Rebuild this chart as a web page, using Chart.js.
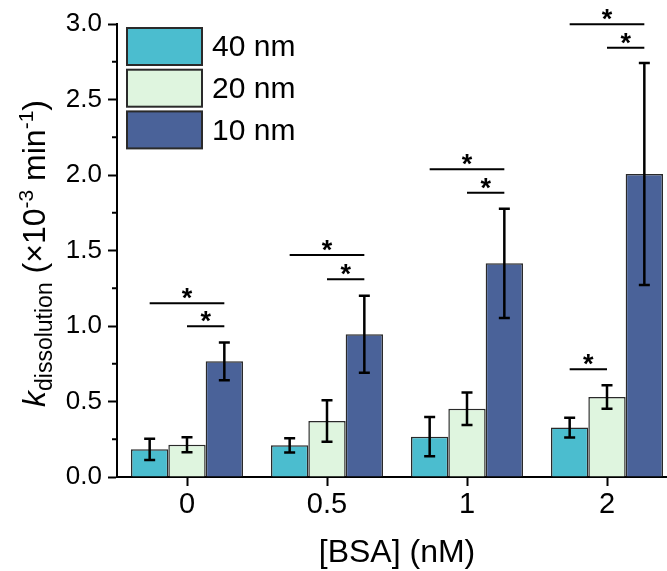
<!DOCTYPE html>
<html>
<head>
<meta charset="utf-8">
<script src="https://cdn.jsdelivr.net/npm/chart.js@4.4.1/dist/chart.umd.min.js"></script>
<style>
  html, body { margin: 0; padding: 0; background: #fff; overflow: hidden; }
</style>
</head>
<body>
<canvas id="chart" width="690" height="571"></canvas>
<script>
// [BSA] concentrations (nM)
const categories = ['0', '0.5', '1', '2'];
const seriesNames = ['40 nm', '20 nm', '10 nm'];
const seriesColors = ['#4bbdcf', '#dff5df', '#4a6299'];

// k_dissolution (x10^-3 min^-1) and error bars
const k40 = [0.183, 0.210, 0.267, 0.327];
const k20 = [0.214, 0.371, 0.452, 0.530];
const k10 = [0.766, 0.945, 1.415, 2.007];
const err40 = [0.070, 0.047, 0.130, 0.066];
const err20 = [0.050, 0.138, 0.107, 0.078];
const err10 = [0.125, 0.255, 0.362, 0.735];

// significance brackets: [category index, from series, to series, height]
const brackets = [
    [0, 0, 2, 1.150], [0, 1, 2, 0.998],
    [1, 0, 2, 1.470], [1, 1, 2, 1.309],
    [2, 0, 2, 2.038], [2, 1, 2, 1.883],
    [3, 0, 2, 2.998], [3, 1, 2, 2.843],
    [3, 0, 1, 0.713]
];

const yMinorTicks = [0.25, 0.75, 1.25, 1.75, 2.25, 2.75];

const values = [k40, k20, k10];
const errors = [err40, err20, err10];
const FONT = '"Liberation Sans", Arial, sans-serif';

const extras = {
    id: 'extras',
    afterDatasetsDraw(chart) {
        const ctx = chart.ctx;
        const y = chart.scales.y;
        ctx.save();
        ctx.strokeStyle = '#000';
        ctx.lineWidth = 2.5;
        // error bars
        errors.forEach((errArr, i) => {
            chart.getDatasetMeta(i).data.forEach((bar, j) => {
                const top = y.getPixelForValue(values[i][j] + errArr[j]);
                const bot = y.getPixelForValue(values[i][j] - errArr[j]);
                ctx.beginPath();
                ctx.moveTo(bar.x, top); ctx.lineTo(bar.x, bot);
                ctx.moveTo(bar.x - 5.5, top); ctx.lineTo(bar.x + 5.5, top);
                ctx.moveTo(bar.x - 5.5, bot); ctx.lineTo(bar.x + 5.5, bot);
                ctx.stroke();
            });
        });
        // brackets with stars
        ctx.lineWidth = 2;
        ctx.fillStyle = '#000';
        ctx.font = 'bold 27px ' + FONT;
        ctx.textAlign = 'center';
        ctx.textBaseline = 'alphabetic';
        brackets.forEach(([c, a, b, v]) => {
            const x1 = chart.getDatasetMeta(a).data[c].x;
            const x2 = chart.getDatasetMeta(b).data[c].x;
            const py = y.getPixelForValue(v);
            ctx.beginPath();
            ctx.moveTo(x1, py); ctx.lineTo(x2, py);
            ctx.stroke();
            ctx.fillText('*', (x1 + x2) / 2, py + 4);
        });
        ctx.restore();
    },
    afterDraw(chart) {
        const ctx = chart.ctx;
        const area = chart.chartArea;
        const y = chart.scales.y;
        ctx.save();

        // minor ticks on y axis
        ctx.strokeStyle = '#000';
        ctx.lineWidth = 2;
        yMinorTicks.forEach(v => {
            const py = y.getPixelForValue(v);
            ctx.beginPath();
            ctx.moveTo(area.left - 5, py); ctx.lineTo(area.left, py);
            ctx.stroke();
        });

        // legend
        seriesNames.forEach((name, i) => {
            const top = 28 + i * 41.7;
            ctx.fillStyle = seriesColors[i];
            ctx.fillRect(127, top, 75, 37);
            ctx.strokeStyle = '#2a2a2a';
            ctx.lineWidth = 2;
            ctx.strokeRect(127, top, 75, 37);
            ctx.fillStyle = '#000';
            ctx.font = '30px ' + FONT;
            ctx.textAlign = 'left';
            ctx.textBaseline = 'middle';
            ctx.fillText(name, 212, top + 20);
        });

        // x axis title
        ctx.fillStyle = '#000';
        ctx.font = '32px ' + FONT;
        ctx.textAlign = 'center';
        ctx.textBaseline = 'middle';
        ctx.fillText('[BSA] (nM)', (area.left + area.right) / 2, 553);

        // y axis title, rotated, with italic k, subscript and superscripts
        const parts = [
            { t: 'k', f: 'italic 32px ' + FONT, dy: 0 },
            { t: 'dissolution', f: '23px ' + FONT, dy: 7 },
            { t: ' (\u00d710', f: '32px ' + FONT, dy: 0 },
            { t: '-3', f: '21px ' + FONT, dy: -12 },
            { t: ' min', f: '32px ' + FONT, dy: 0 },
            { t: '-1', f: '21px ' + FONT, dy: -12 },
            { t: ')', f: '32px ' + FONT, dy: 0 }
        ];
        let total = 0;
        parts.forEach(p => { ctx.font = p.f; p.w = ctx.measureText(p.t).width; total += p.w; });
        ctx.translate(45, (area.top + area.bottom) / 2 + 3);
        ctx.rotate(-Math.PI / 2);
        ctx.textAlign = 'left';
        ctx.textBaseline = 'alphabetic';
        let cx = -total / 2;
        parts.forEach(p => {
            ctx.font = p.f;
            ctx.fillText(p.t, cx, p.dy);
            cx += p.w;
        });
        ctx.restore();
    }
};

new Chart(document.getElementById('chart'), {
    type: 'bar',
    data: {
        labels: categories,
        datasets: seriesNames.map((name, i) => ({
            label: name,
            data: values[i],
            backgroundColor: seriesColors[i],
            borderColor: '#2a2a2a',
            borderWidth: 1.5,
            categoryPercentage: 0.8,
            barPercentage: 1.0
        }))
    },
    options: {
        responsive: false,
        animation: false,
        devicePixelRatio: 1,
        layout: { padding: { top: 24, right: 13, left: 0, bottom: 0 } },
        plugins: {
            legend: { display: false },
            tooltip: { enabled: false }
        },
        scales: {
            x: {
                grid: { drawOnChartArea: false, offset: false, tickLength: 9, tickWidth: 2, tickColor: '#000' },
                border: { color: '#000', width: 2 },
                ticks: { color: '#000', font: { family: FONT, size: 29 }, padding: 2, maxRotation: 0 },
                afterFit(s) { s.height = 94; }
            },
            y: {
                min: 0,
                max: 3,
                grid: { drawOnChartArea: false, tickLength: 9, tickWidth: 2, tickColor: '#000' },
                border: { color: '#000', width: 2 },
                ticks: {
                    stepSize: 0.5,
                    color: '#000',
                    font: { family: FONT, size: 26 },
                    padding: 6,
                    callback: v => v.toFixed(1)
                },
                afterFit(s) { s.width = 117; }
            }
        }
    },
    plugins: [extras]
});
</script>
</body>
</html>
